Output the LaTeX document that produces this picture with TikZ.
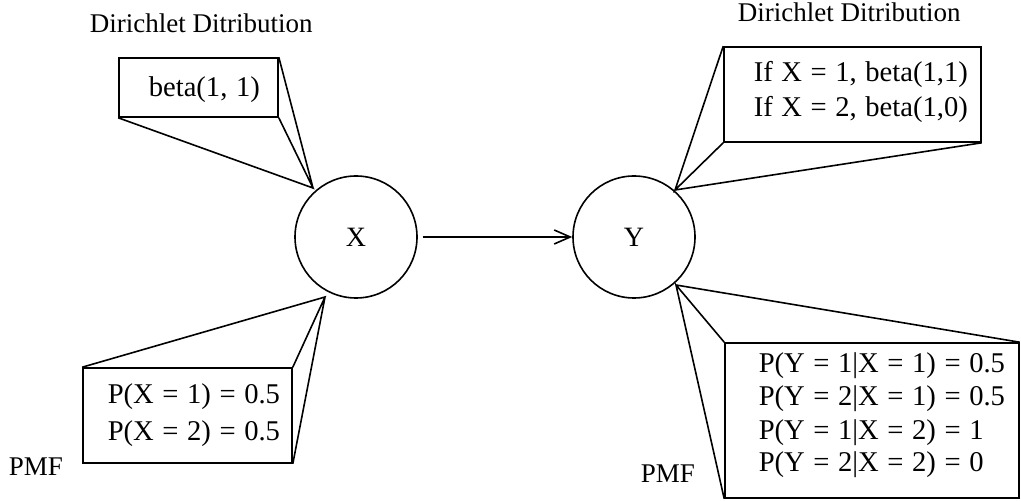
\documentclass[tikz,border=0pt]{standalone}
\usepackage{fontspec}
\setmainfont{Liberation Serif}
\usetikzlibrary{arrows.meta}
% box text: slightly larger, with wider word spaces
\newcommand\tabtextfont{\fontsize{14.3}{16}\selectfont\spaceskip=0.3em\relax}
\begin{document}
\begin{tikzpicture}[x=0.5pt,y=-0.5pt,
  line width=0.8pt,
  var/.style={draw,circle,minimum size=61pt,inner sep=0pt,font=\fontsize{14}{16}\selectfont},
  tablebox/.style={draw,rectangle,inner sep=0pt},
  txt/.style={anchor=base west,inner sep=0pt,font=\fontsize{13.5}{16}\selectfont},
  boxtxt/.style={anchor=base west,inner sep=0pt,font=\tabtextfont},
  wedge/.style={line join=miter}]
\useasboundingbox (0,0) rectangle (1021,501);

% random variables
\node[var] (X) at (356,237) {X};
\node[var] (Y) at (634,237) {Y};
\draw[-{Straight Barb[length=8pt,width=7pt]}] (X.east) ++(5,0) coordinate (xa) (xa) -- (Y.west);

% callout tips on the circles
\coordinate (xt) at (313,188);
\coordinate (xb) at (325,297);
\coordinate (yt) at (675,190);
\coordinate (yb) at (676,285);

% parameter / pmf boxes
\node[tablebox,minimum width=79.5pt,minimum height=29.5pt] (bx1) at (198.5,87.5) {};
\node[tablebox,minimum width=128.5pt,minimum height=47.5pt] (bx2) at (852.5,94.5) {};
\node[tablebox,minimum width=104.5pt,minimum height=47.5pt] (bx3) at (187.5,415.5) {};
\node[tablebox,minimum width=147pt,minimum height=77.5pt] (bx4) at (872,420.5) {};

% wedges joining boxes to the variables
\draw[wedge] (bx1.south west) -- (xt) -- (bx1.south east) (bx1.north east) -- (xt);
\draw[wedge] (bx2.north west) -- (yt) -- (bx2.south west) (bx2.south east) -- (yt);
\draw[wedge] (bx3.north west) -- (xb) -- (bx3.north east) (bx3.south east) -- (xb);
\draw[wedge] (bx4.north west) -- (yb) -- (bx4.south west) (bx4.north east) -- (yb);

% labels
\node[txt] (d1) at (89,33) {Dirichlet Ditribution};
\node[txt] (d2) at (737,22) {Dirichlet Ditribution};
\node[txt] (p1) at (8,475) {PMF};
\node[txt] (p2) at (640,482) {PMF};

% box contents
\node[boxtxt] (t1) at (148,97) {beta(1, 1)};
\node[boxtxt] (t2a) at (753,82) {If X = 1, beta(1,1)};
\node[boxtxt] (t2b) at (753,117) {If X = 2, beta(1,0)};
\node[boxtxt] (t3a) at (107,404) {P(X = 1) = 0.5};
\node[boxtxt] (t3b) at (107,440) {P(X = 2) = 0.5};
\node[boxtxt] (t4a) at (758,373) {P(Y = 1|X = 1) = 0.5};
\node[boxtxt] (t4b) at (758,406) {P(Y = 2|X = 1) = 0.5};
\node[boxtxt] (t4c) at (758,439) {P(Y = 1|X = 2) = 1};
\node[boxtxt] (t4d) at (758,472) {P(Y = 2|X = 2) = 0};
\end{tikzpicture}
\end{document}
